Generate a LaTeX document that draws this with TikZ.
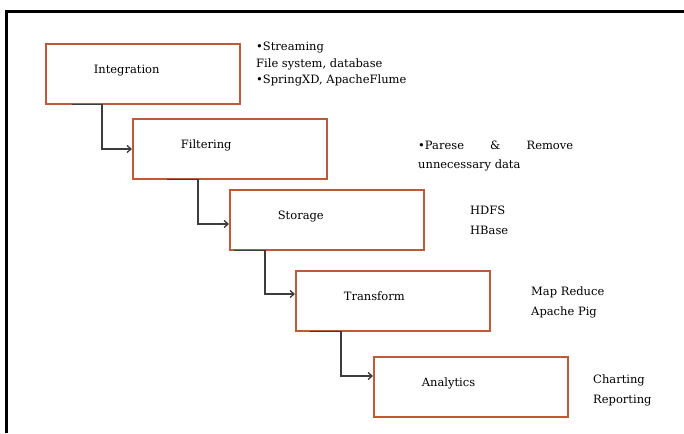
\documentclass[tikz,border=0pt]{standalone}
\usepackage{fontspec}
\setmainfont{DejaVu Serif}
\usetikzlibrary{positioning,arrows.meta}
\definecolor{StageEdge}{RGB}{192,90,52}
\definecolor{FlowGray}{RGB}{60,60,60}

\begin{document}
\begin{tikzpicture}[x=1pt, y=-1pt,
    every node/.style={font=\fontsize{11.5}{20}\selectfont},
    stage/.style={draw=StageEdge, line width=1.7pt, minimum height=60pt,
                  text width=98pt, text depth=9pt, inner xsep=48pt, inner ysep=0pt,
                  align=left, anchor=north west},
    note/.style={inner sep=0pt, align=left, anchor=north west},
    flow/.style={-{Straight Barb[length=4pt,width=7pt]}, line width=1.3pt, FlowGray}]
  \useasboundingbox (0,0) rectangle (684,433);
  % page frame, cut off on the right and at the bottom
  \draw[line width=3pt] (6,433) -- (6,12) -- (684,12);

  % stages
  \node[stage] (int)   at (45,43)  {Integration};
  \node[stage] (filt)  at (132,118) {Filtering};
  \node[stage] (stor)  at (229,189) {Storage};
  \node[stage] (trans) at (295,270) {Transform};
  \node[stage] (anly)  at (373,356) {Analytics};

  % notes beside the stages
  \node[note, font=\fontsize{11.5}{16.3}\selectfont] (intnote) at (256,42)
       {•Streaming\\File system, database\\•SpringXD, ApacheFlume};
  \node[note, font=\fontsize{11.5}{19}\selectfont] (filtnote) at (418,141)
       {\hbox to 155pt{•Parese\hfill\&\hfill Remove}\\unnecessary data};
  \node[note] (stornote)  at (470,206) {HDFS\\HBase};
  \node[note] (transnote) at (531,287) {Map Reduce\\Apache Pig};
  \node[note] (anlynote)  at (593,375) {Charting\\Reporting};

  % elbow connectors
  \draw[flow] ([xshift=27pt]int.south west) -- ([xshift=57pt]int.south west)
              |- ([yshift=-31pt]filt.north west);
  \draw[flow] ([xshift=35pt]filt.south west) -- ([xshift=66pt]filt.south west)
              |- ([yshift=-35pt]stor.north west);
  \draw[flow] ([xshift=5pt]stor.south west) -- ([xshift=36pt]stor.south west)
              |- ([yshift=-24pt]trans.north west);
  \draw[flow] ([xshift=15pt]trans.south west) -- ([xshift=46pt]trans.south west)
              |- ([yshift=-20pt]anly.north west);
\end{tikzpicture}
\end{document}
